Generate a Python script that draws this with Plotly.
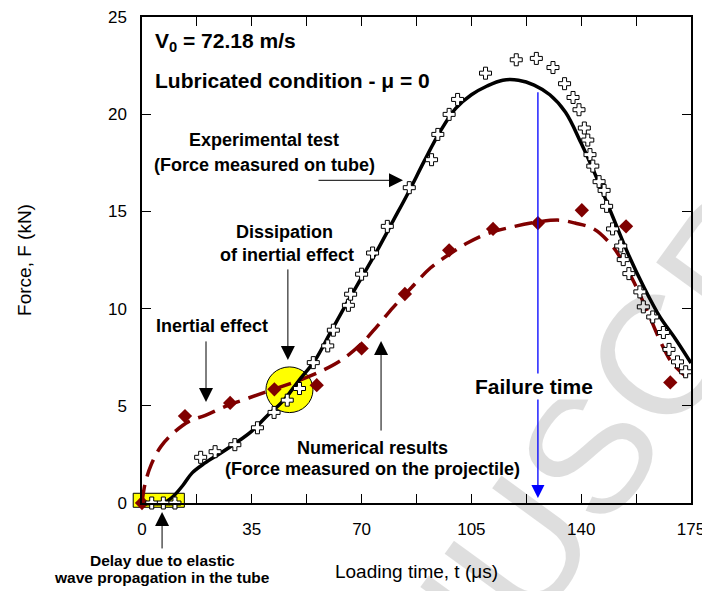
import plotly.graph_objects as go

# experimental test, force measured on tube (open crosses)
exp_t = [3.1, 6.8, 10.5, 18.7, 23.3, 29.6, 36.8, 42.1, 46.3, 50.2, 54.6, 59.2, 61.0, 65.8,
         66.5, 70.0, 73.5, 78.2, 85.2, 92.3, 94.3, 97.9, 100.6, 109.5, 119.3, 125.7, 131.0,
         134.7, 137.4, 139.3, 141.0, 142.1, 142.8, 143.7, 145.7, 147.3, 148.1, 150.0, 152.6,
         153.4, 155.2, 158.7, 159.8, 162.8, 166.2, 168.0, 170.7, 173.3]
exp_F = [0.0, 0.0, 0.0, 2.35, 2.64, 3.0, 3.87, 4.66, 5.29, 5.89, 7.22, 8.08, 8.89, 10.17,
         10.74, 11.77, 12.86, 14.23, 16.22, 17.66, 18.96, 19.99, 20.76, 22.11, 22.80, 22.87, 22.40,
         21.57, 20.86, 20.23, 19.29, 18.67, 17.92, 17.33, 16.53, 16.08, 15.26, 14.10, 13.22,
         12.52, 11.80, 10.86, 10.09, 9.57, 8.77, 7.90, 7.26, 6.75]

# fitted experimental curve (solid black)
fit_t = [7, 10, 13, 16, 20, 25, 30, 35, 40, 45, 50, 55, 60, 65, 70, 75, 80, 85, 90, 95, 100,
         105, 110, 115, 120, 125, 130, 135, 140, 145, 150, 155, 160, 165, 170, 175]
fit_F = [0.0, 0.35, 0.9, 1.55, 2.05, 2.56, 3.1, 3.7, 4.5, 5.25, 6.3, 7.3, 8.75, 10.2, 11.6,
         13.0, 14.5, 16.0, 17.6, 19.1, 20.3, 21.0, 21.45, 21.75, 21.75, 21.5, 21.0, 20.1, 18.5,
         16.7, 14.75, 12.8, 11.1, 9.6, 8.45, 7.2]

# numerical results, force measured on the projectile (diamonds)
num_t = [0, 13.7, 28.1, 42.2, 55.7, 70.0, 83.8, 97.9, 111.9, 126.2, 140.2, 154.3, 168.4]
num_F = [0.0, 4.47, 5.15, 5.85, 6.06, 7.95, 10.75, 13.0, 14.1, 14.4, 15.06, 14.23, 6.2]

# numerical trend (dashed)
trend_t = [0, 1, 3, 6, 10, 15, 20, 27, 34, 42, 50, 58, 64, 70, 75, 80, 86, 92, 98, 104,
           110, 118, 126, 133, 138, 144, 150, 154, 157, 161, 165, 169, 173.5]
trend_F = [0.0, 1.0, 2.0, 2.9, 3.6, 4.2, 4.5, 5.0, 5.4, 5.85, 6.3, 6.85, 7.4, 8.2, 9.1, 10.05,
           11.1, 12.1, 12.8, 13.4, 13.85, 14.2, 14.45, 14.55, 14.4, 14.1, 13.2, 12.2, 11.3,
           9.9, 8.4, 7.2, 6.5]

x_ticks = [0, 17.5, 35, 52.5, 70, 87.5, 105, 122.5, 140, 157.5, 175]
x_labels = ["0", "", "35", "", "70", "", "105", "", "140", "", "175"]
y_ticks = [0, 5, 10, 15, 20, 25]

failure_t = 126.2
x_max = 175
y_max = 25

font_name = "Liberation Sans, Arial, sans-serif"
maroon = "#800000"

fig = go.Figure()

fig.add_trace(go.Scatter(x=trend_t, y=trend_F, mode="lines", line_shape="spline",
                         line=dict(color=maroon, width=3.5, dash="18px,9px"),
                         hoverinfo="skip", cliponaxis=False))
fig.add_trace(go.Scatter(x=num_t, y=num_F, mode="markers",
                         marker=dict(symbol="diamond", size=11, color=maroon),
                         cliponaxis=False))
fig.add_trace(go.Scatter(x=fit_t, y=fit_F, mode="lines", line_shape="spline",
                         line=dict(color="black", width=3.5), cliponaxis=False))
fig.add_trace(go.Scatter(x=exp_t, y=exp_F, mode="markers",
                         marker=dict(symbol="cross", size=10, color="white",
                                     line=dict(color="black", width=1)),
                         cliponaxis=False))

# yellow highlights
fig.add_shape(type="circle", xref="x", yref="y", x0=39.5, x1=54.5, y0=4.65, y1=7.0,
              fillcolor="#FFFF00", line=dict(color="black", width=1), layer="below")
fig.add_shape(type="rect", xref="paper", yref="paper",
              x0=-2.8 / x_max, x1=13.5 / x_max, y0=-0.22 / y_max, y1=0.5 / y_max,
              fillcolor="#FFFF00", line=dict(color="black", width=1), layer="below")


def label(text, x, y, size=18, xanchor="center", xref="x", yref="y", **kw):
    fig.add_annotation(text="<b>" + text + "</b>", x=x, y=y, xref=xref, yref=yref,
                       showarrow=False, xanchor=xanchor, yanchor="middle",
                       font=dict(family=font_name, size=size, color="black"), **kw)


def arrow(x, y, ax, ay, xref="x", yref="y", color="black", width=1, size=2.8):
    fig.add_annotation(text="", x=x, y=y, ax=ax, ay=ay, xref=xref, yref=yref,
                       showarrow=True, arrowhead=2, arrowsize=size, arrowwidth=width,
                       arrowcolor=color, standoff=0)


# watermark
fig.add_annotation(text="MANUSCRIPT", x=0.82, y=0.111, xref="paper", yref="paper",
                   xanchor="center", yanchor="middle", showarrow=False, textangle=-54,
                   font=dict(family=font_name, size=170, color="rgba(0,0,0,0.13)"))

label("V<sub>0</sub> = 72.18 m/s", 0.02, 0.948, size=21, xanchor="left", xref="paper", yref="paper")
label("Lubricated condition - μ = 0", 0.02, 0.870, size=21, xanchor="left", xref="paper", yref="paper")

label("Experimental test", 39.0, 18.65)
label("(Force measured on tube)", 39.0, 17.4)
arrow(83.2, 16.6, -86, 0)

label("Dissipation", 45.5, 13.95)
label("of inertial effect", 46.2, 12.75)
arrow(46.5, 7.36, 0, -92)

label("Inertial effect", 22.2, 9.1)
arrow(20.4, 5.2, 0, -62)

label("Numerical results", 73.4, 2.83)
label("(Force measured on the projectile)", 73.4, 1.74)
arrow(76.2, 8.33, 0, 91)

label("Delay due to elastic", 6.4 / x_max, -2.98 / y_max, size=15.5, xref="paper", yref="paper")
label("wave propagation in the tube", 6.4 / x_max, -3.83 / y_max, size=15.5, xref="paper", yref="paper")
arrow(6.4 / x_max, -0.46 / y_max, 0, 38, xref="paper", yref="paper")

# failure time marker
fig.add_annotation(text="", x=failure_t, y=0.26, ax=failure_t, ay=21.2, axref="x", ayref="y",
                   showarrow=True, arrowhead=2, arrowsize=2.0, arrowwidth=1.3,
                   arrowcolor="#0000FF", standoff=0)
label("Failure time", 125.0, 5.98, size=21, bgcolor="white")

axis_font = dict(family=font_name, size=17, color="black")
fig.update_xaxes(range=[0, x_max], tickvals=x_ticks, ticktext=x_labels, ticks="inside",
                 ticklen=9, tickwidth=1, tickcolor="black", showline=True, linecolor="black",
                 linewidth=1.5, mirror="ticks", showgrid=False, zeroline=False,
                 tickfont=axis_font, ticklabelstandoff=10, automargin=False,
                 ticklabeloverflow="allow",
                 title=dict(text="Loading time, t (μs)", standoff=27,
                            font=dict(family=font_name, size=19, color="black")))
fig.update_yaxes(range=[0, y_max], tickvals=y_ticks, ticks="inside", ticklen=9, tickwidth=1,
                 tickcolor="black", showline=True, linecolor="black", linewidth=1.5,
                 mirror="ticks", showgrid=False, zeroline=False, tickfont=axis_font,
                 ticklabelstandoff=10, automargin=False, ticklabeloverflow="allow",
                 title=dict(text="Force, F (kN)", standoff=71,
                            font=dict(family=font_name, size=19, color="black")))

# page body has an 8px margin, so the figure is shrunk by that much
fig.update_layout(width=702, height=583, margin=dict(l=134, r=19, t=9, b=88),
                  showlegend=False, paper_bgcolor="white", plot_bgcolor="rgba(0,0,0,0)",
                  font=dict(family=font_name, color="black"))

fig.write_html("out.html")
